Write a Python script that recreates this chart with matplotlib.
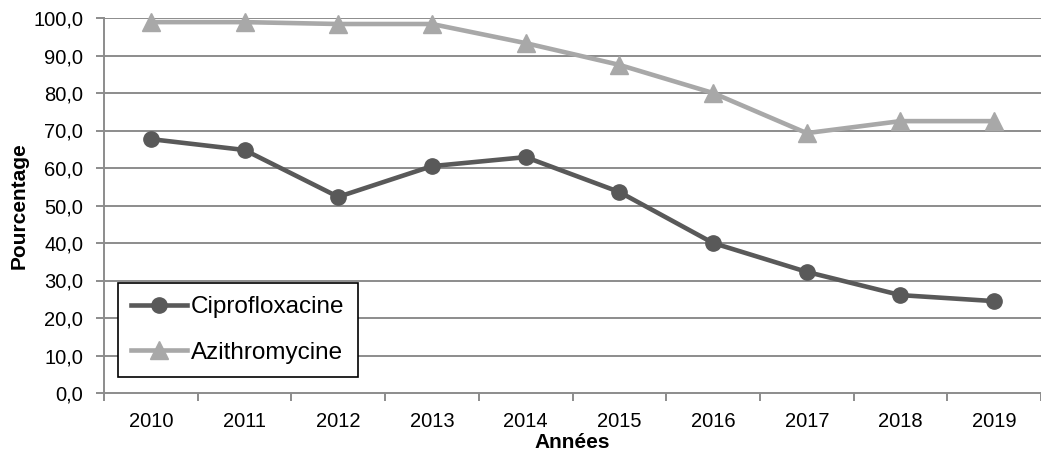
import matplotlib.pyplot as plt
import numpy as np

plt.rcParams['font.family'] = ['Liberation Sans', 'DejaVu Sans']

# data
annees = ['2010', '2011', '2012', '2013', '2014', '2015', '2016', '2017', '2018', '2019']
cipro = [67.7, 64.8, 52.3, 60.5, 62.9, 53.6, 40.0, 32.3, 26.1, 24.5]
azithro = [98.9, 98.9, 98.4, 98.4, 93.3, 87.5, 80.0, 69.3, 72.5, 72.5]

fig = plt.figure(figsize=(10.41, 4.53), dpi=100)
ax = fig.add_axes([104 / 1041, 60 / 453, 937 / 1041, 375 / 453])

x = np.arange(len(annees))
grid_col = '#8c8c8c'

# horizontal gridlines
for v in range(10, 101, 10):
    ax.axhline(v, color=grid_col, lw=1.4, zorder=0)

ax.plot(x, cipro, color='#595959', lw=3.3, marker='o', markersize=11,
        label='Ciprofloxacine', clip_on=False, zorder=3)
ax.plot(x, azithro, color='#a8a8a8', lw=3.3, marker='^', markersize=12.5,
        label='Azithromycine', clip_on=False, zorder=3)

ax.set_ylim(0, 100)
ax.set_xlim(-0.5, 9.4)
ax.set_yticks(range(0, 101, 10))
ax.set_yticklabels([f'{v:.1f}'.replace('.', ',') for v in range(0, 101, 10)])
ax.set_xticks(x)
ax.set_xticklabels(annees)
ax.set_xticks(np.arange(-0.5, 10, 1), minor=True)

ax.tick_params(axis='x', which='major', length=0, pad=14, labelsize=14.5)
ax.tick_params(axis='x', which='minor', length=6, width=1.4, color=grid_col)
ax.tick_params(axis='y', length=6, width=1.4, color=grid_col, labelsize=14.5, pad=9)

for s in ['top', 'right']:
    ax.spines[s].set_visible(False)
for s in ['left', 'bottom']:
    ax.spines[s].set_color(grid_col)
    ax.spines[s].set_linewidth(1.4)

ax.set_ylabel('Pourcentage', fontsize=15, fontweight='bold', labelpad=3)
ax.set_xlabel('Années', fontsize=15, fontweight='bold', labelpad=1)

leg = ax.legend(loc='lower left', bbox_to_anchor=(0.015, 0.043), borderaxespad=0,
                fontsize=17.5, handlelength=2.3, handletextpad=0.15, labelspacing=0.95,
                borderpad=0.55, fancybox=False, framealpha=1, edgecolor='black')
leg.get_frame().set_linewidth(1.2)

fig.savefig('out.png', dpi=100)
